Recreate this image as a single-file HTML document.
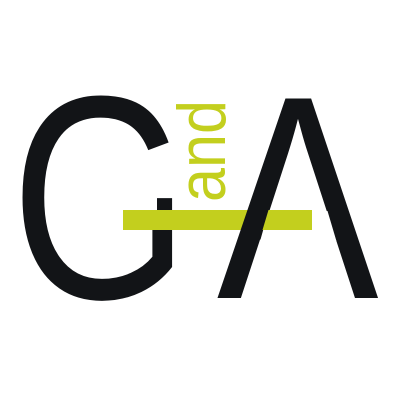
<!DOCTYPE html>
<html><head><meta charset="utf-8"><style>
html,body{margin:0;padding:0;background:#fff;width:400px;height:400px;overflow:hidden}
</style></head><body>
<svg width="400" height="400" viewBox="0 0 400 400">
<rect width="400" height="400" fill="#fff"/>
<g transform="translate(11,298) scale(0.79,1)"><text x="0" y="0" font-family="Liberation Sans, sans-serif" font-size="290" fill="#121417">G</text></g>
<rect x="95" y="192" width="62" height="38" fill="#fff"/>
<rect x="123" y="210" width="189" height="20" fill="#c3cf1e"/>
<g transform="translate(225,202) rotate(-90)"><text x="0" y="0" font-family="Liberation Sans, sans-serif" font-size="68" fill="#c3cf1e" textLength="102" lengthAdjust="spacingAndGlyphs">and</text></g>
<g transform="translate(217,298) scale(0.835,1)"><text x="0" y="0" font-family="Liberation Sans, sans-serif" font-size="290" fill="#121417">A</text></g>
<polygon points="268.5,211 327.5,211 336.3,240.6 260.2,240.6" fill="#fff"/>
<polygon points="268.5,210 312,210 312,230 262.5,230" fill="#c3cf1e"/>
</svg>
</body></html>
